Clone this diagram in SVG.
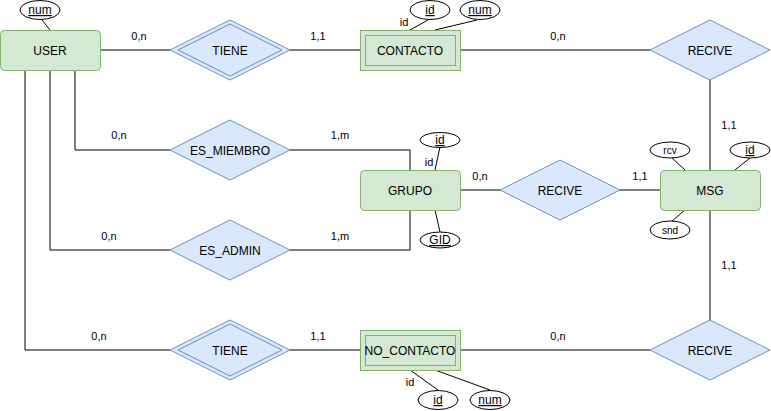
<svg xmlns="http://www.w3.org/2000/svg" width="771" height="411" viewBox="0 0 771 411">
<defs>
<style>
.ent{fill:#d5e8d4;stroke:#82b366;stroke-width:1}
.rel{fill:#dae8fc;stroke:#6c8ebf;stroke-width:1}
.att{fill:#ffffff;stroke:#000000;stroke-width:1}
.edge{fill:none;stroke:#000000;stroke-width:1}
text{font-family:"Liberation Sans",Arial,Helvetica,sans-serif;fill:#000000;text-anchor:middle}
.t12{font-size:12px}
.t11{font-size:11px}
.t10{font-size:10px}
.u{text-decoration:underline}
</style>
</defs>
<rect width="771" height="411" fill="#ffffff"/>
<g id="connectors">
<path class="edge" d="M100,50 H170"/>
<path class="edge" d="M290,50 H360"/>
<path class="edge" d="M460,50 H650"/>
<path class="edge" d="M710,80 V170"/>
<path class="edge" d="M75,70 V150 H170"/>
<path class="edge" d="M290,150 H410 V170"/>
<path class="edge" d="M50,70 V250 H170"/>
<path class="edge" d="M290,250 H410 V210"/>
<path class="edge" d="M460,190 H500"/>
<path class="edge" d="M620,190 H660"/>
<path class="edge" d="M710,210 V320"/>
<path class="edge" d="M25,70 V350 H170"/>
<path class="edge" d="M290,350 H360"/>
<path class="edge" d="M460,350 H650"/>
<path class="edge" d="M50,30 L42,20"/>
<path class="edge" d="M410,30 L428,20"/>
<path class="edge" d="M435,30 L477,20"/>
<path class="edge" d="M435,170 L440,147"/>
<path class="edge" d="M435,210 L440,232"/>
<path class="edge" d="M685,170 L672,158"/>
<path class="edge" d="M735,170 L750,158"/>
<path class="edge" d="M685,210 L672,221"/>
<path class="edge" d="M410,370 L438,390"/>
<path class="edge" d="M435,370 L490,390"/>
<text class="t11" x="139" y="40">0,n</text>
<text class="t11" x="318" y="40">1,1</text>
<text class="t11" x="558" y="40">0,n</text>
<text class="t11" x="729" y="129">1,1</text>
<text class="t11" x="119" y="139">0,n</text>
<text class="t11" x="340" y="139">1,m</text>
<text class="t11" x="109" y="240">0,n</text>
<text class="t11" x="340" y="240">1,m</text>
<text class="t11" x="480" y="180">0,n</text>
<text class="t11" x="640" y="180">1,1</text>
<text class="t11" x="729" y="269">1,1</text>
<text class="t11" x="99" y="340">0,n</text>
<text class="t11" x="318" y="340">1,1</text>
<text class="t11" x="558" y="340">0,n</text>
<text class="t11" x="404" y="26">id</text>
<text class="t11" x="429" y="166">id</text>
<text class="t11" x="410" y="386">id</text>
</g>
<g id="user">
<rect class="ent" x="0.5" y="30.5" width="100" height="40" rx="4"/>
<text class="t12" x="50" y="54.5">USER</text>
</g>
<g id="user-num">
<ellipse class="att" cx="40" cy="10" rx="20" ry="9.5"/>
<text class="t12 u" x="40" y="14">num</text>
</g>
<g id="tiene1">
<polygon class="rel" points="230,20 290,50 230,80 170,50"/>
<polygon class="rel" points="230,24 282,50 230,76 178,50"/>
<text class="t12" x="230" y="54.5">TIENE</text>
</g>
<g id="contacto">
<rect class="ent" x="360.5" y="30.5" width="100" height="40"/>
<rect class="ent" x="365.5" y="35.5" width="90" height="30"/>
<text class="t12" x="410" y="54.5">CONTACTO</text>
</g>
<g id="contacto-id">
<ellipse class="att" cx="430" cy="10" rx="20" ry="9.5"/>
<text class="t12 u" x="430" y="14">id</text>
</g>
<g id="contacto-num">
<ellipse class="att" cx="480" cy="10" rx="20" ry="9.5"/>
<text class="t12 u" x="480" y="14">num</text>
</g>
<g id="recive1">
<polygon class="rel" points="710,20 770,50 710,80 650,50"/>
<text class="t12" x="710" y="54.5">RECIVE</text>
</g>
<g id="es_miembro">
<polygon class="rel" points="230,120 290,150 230,180 170,150"/>
<text class="t12" x="230" y="154.5">ES_MIEMBRO</text>
</g>
<g id="es_admin">
<polygon class="rel" points="230,220 290,250 230,280 170,250"/>
<text class="t12" x="230" y="254.5">ES_ADMIN</text>
</g>
<g id="grupo">
<rect class="ent" x="360.5" y="170.5" width="100" height="40" rx="4"/>
<text class="t12" x="410" y="194.5">GRUPO</text>
</g>
<g id="grupo-id">
<ellipse class="att" cx="440" cy="140" rx="20" ry="7.5"/>
<text class="t12 u" x="440" y="144">id</text>
</g>
<g id="grupo-gid">
<ellipse class="att" cx="440" cy="240" rx="20" ry="8"/>
<text class="t12 u" x="440" y="244">GID</text>
</g>
<g id="recive2">
<polygon class="rel" points="560,160 620,190 560,220 500,190"/>
<text class="t12" x="560" y="194.5">RECIVE</text>
</g>
<g id="msg">
<rect class="ent" x="660.5" y="170.5" width="100" height="40" rx="4"/>
<text class="t12" x="710" y="194.5">MSG</text>
</g>
<g id="msg-rcv">
<ellipse class="att" cx="670" cy="150" rx="20" ry="8"/>
<text class="t10" x="670" y="153.5">rcv</text>
</g>
<g id="msg-id">
<ellipse class="att" cx="750" cy="150" rx="20" ry="8"/>
<text class="t12 u" x="750" y="154">id</text>
</g>
<g id="msg-snd">
<ellipse class="att" cx="670" cy="230" rx="20" ry="9"/>
<text class="t10" x="670" y="233.5">snd</text>
</g>
<g id="tiene2">
<polygon class="rel" points="230,320 290,350 230,380 170,350"/>
<polygon class="rel" points="230,324 282,350 230,376 178,350"/>
<text class="t12" x="230" y="354.5">TIENE</text>
</g>
<g id="no_contacto">
<rect class="ent" x="360.5" y="330.5" width="100" height="40"/>
<rect class="ent" x="365.5" y="335.5" width="90" height="30"/>
<text class="t12" x="410" y="354.5">NO_CONTACTO</text>
</g>
<g id="no_contacto-id">
<ellipse class="att" cx="438" cy="400" rx="20" ry="9.5"/>
<text class="t12 u" x="438" y="404">id</text>
</g>
<g id="no_contacto-num">
<ellipse class="att" cx="490" cy="400" rx="20" ry="9.5"/>
<text class="t12 u" x="490" y="404">num</text>
</g>
<g id="recive3">
<polygon class="rel" points="710,320 770,350 710,380 650,350"/>
<text class="t12" x="710" y="354.5">RECIVE</text>
</g>
</svg>
